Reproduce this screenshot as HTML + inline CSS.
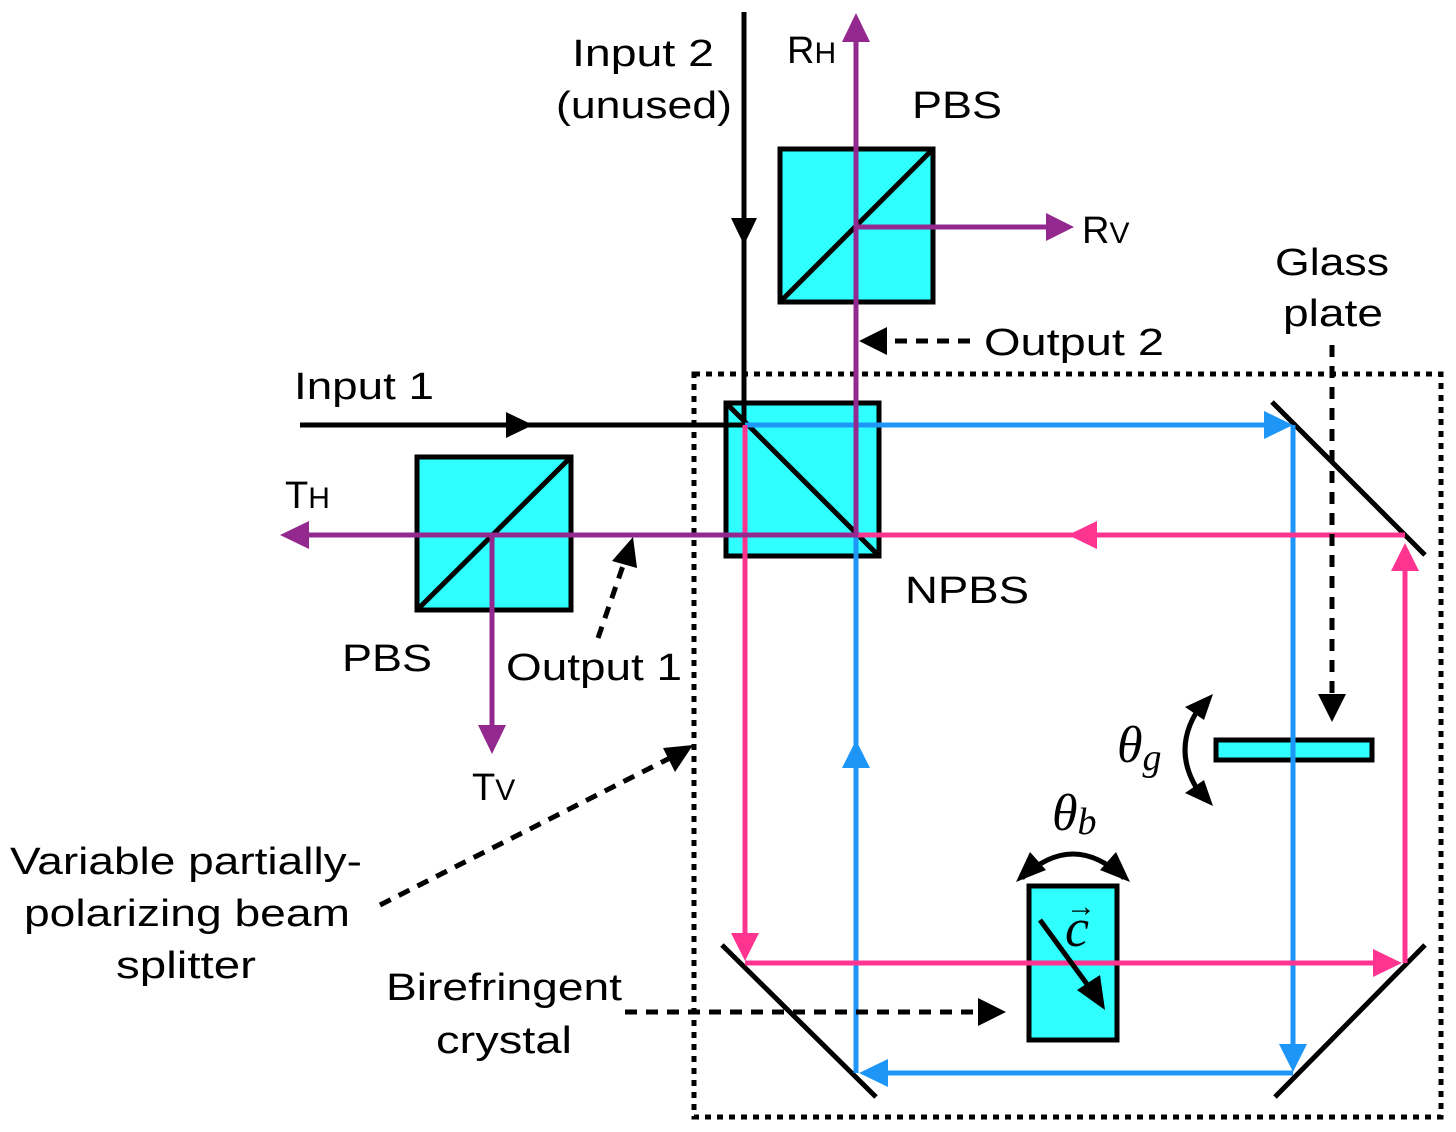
<!DOCTYPE html>
<html><head><meta charset="utf-8"><style>html,body{margin:0;padding:0;background:#fff}svg{display:block}</style></head>
<body>
<svg width="1456" height="1132" viewBox="0 0 1456 1132" xmlns="http://www.w3.org/2000/svg" font-family="Liberation Sans, Arial, sans-serif" font-size="38">
<!-- dotted box -->
<rect x="694" y="374" width="747" height="743" fill="none" stroke="#000" stroke-width="5" stroke-dasharray="6 6"/>

<!-- cubes -->
<rect x="726" y="403" width="153" height="153" fill="#2ffffe" stroke="#000" stroke-width="5"/>
<line x1="726" y1="403" x2="879" y2="556" stroke="#000" stroke-width="5"/>
<rect x="780" y="149" width="153" height="153" fill="#2ffffe" stroke="#000" stroke-width="5"/>
<line x1="780" y1="302" x2="933" y2="149" stroke="#000" stroke-width="5"/>
<rect x="417" y="457" width="154" height="153" fill="#2ffffe" stroke="#000" stroke-width="5"/>
<line x1="417" y1="610" x2="571" y2="457" stroke="#000" stroke-width="5"/>
<rect x="1216" y="740" width="156" height="20" fill="#2ffffe" stroke="#000" stroke-width="5"/>
<rect x="1029" y="886" width="88" height="154" fill="#2ffffe" stroke="#000" stroke-width="5"/>

<!-- mirrors -->
<line x1="1272" y1="402" x2="1425" y2="555" stroke="#000" stroke-width="5"/>
<line x1="722" y1="945" x2="876" y2="1097" stroke="#000" stroke-width="5"/>
<line x1="1275" y1="1097" x2="1425" y2="945" stroke="#000" stroke-width="5"/>

<!-- black inputs -->
<line x1="300" y1="425" x2="745" y2="425" stroke="#000" stroke-width="5"/>
<polygon points="533,425 506,412 506,438" fill="#000"/>
<line x1="744" y1="12" x2="744" y2="425" stroke="#000" stroke-width="5"/>
<polygon points="744,245 731,218 757,218" fill="#000"/>

<!-- blue -->
<g stroke="#1e96f8" stroke-width="5" fill="none">
<line x1="745" y1="425" x2="1270" y2="425"/>
<line x1="1293" y1="425" x2="1293" y2="1050"/>
<line x1="1293" y1="1073" x2="880" y2="1073"/>
<line x1="856" y1="1073" x2="856" y2="535"/>
</g>
<g fill="#1e96f8">
<polygon points="1293,425 1264,411 1264,439"/>
<polygon points="1293,1072 1279,1044 1307,1044"/>
<polygon points="859,1073 888,1059 888,1087"/>
<polygon points="856,740 842,768 870,768"/>
</g>
<!-- pink -->
<g stroke="#ff3390" stroke-width="5" fill="none">
<line x1="745" y1="425" x2="745" y2="935"/>
<line x1="745" y1="963" x2="1380" y2="963"/>
<line x1="1405" y1="963" x2="1405" y2="565"/>
<line x1="1405" y1="535" x2="858" y2="535"/>
</g>
<g fill="#ff3390">
<polygon points="745,961 731,933 759,933"/>
<polygon points="1402,963 1373,949 1373,977"/>
<polygon points="1405,543 1391,571 1419,571"/>
<polygon points="1068,535 1097,521 1097,549"/>
</g>
<!-- purple -->
<g stroke="#93288f" stroke-width="5" fill="none">
<line x1="858" y1="535" x2="300" y2="535"/>
<line x1="856" y1="535" x2="856" y2="40"/>
<line x1="856" y1="227" x2="1050" y2="227"/>
<line x1="492" y1="535" x2="492" y2="730"/>
</g>
<g fill="#93288f">
<polygon points="280,535 309,521 309,549"/>
<polygon points="856,13 842,42 870,42"/>
<polygon points="1074,227 1046,213 1046,241"/>
<polygon points="492,754 478,725 506,725"/>
</g>

<!-- dashed pointers -->
<g stroke="#000" stroke-width="5" stroke-dasharray="12 9" fill="none">
<line x1="970" y1="341" x2="885" y2="341"/>
<line x1="598" y1="638" x2="625" y2="560"/>
<line x1="1332" y1="345" x2="1332" y2="700"/>
<line x1="625" y1="1012" x2="980" y2="1012"/>
<line x1="380" y1="905" x2="670" y2="758"/>
</g>
<g fill="#000">
<polygon points="859,341 887,327 887,355"/>
<polygon points="633,537 637,568 612,561"/>
<polygon points="1332,722 1318,694 1346,694"/>
<polygon points="1006,1012 978,998 978,1026"/>
<polygon points="693,745 675,772 663,748"/>
</g>

<!-- rotation arrows -->
<path d="M1022,878 Q1073,830 1124,878" stroke="#000" stroke-width="5" fill="none"/>
<polygon points="1016,882 1046,870 1030,852" fill="#000"/>
<polygon points="1130,882 1100,870 1116,852" fill="#000"/>
<path d="M1205,700 Q1165,750 1205,800" stroke="#000" stroke-width="5" fill="none"/>
<polygon points="1213,694 1185,707 1204,720" fill="#000"/>
<polygon points="1213,806 1185,793 1204,780" fill="#000"/>
<!-- c vector -->
<line x1="1040" y1="920" x2="1095" y2="995" stroke="#000" stroke-width="5"/>
<polygon points="1105,1010 1077,990 1100,975" fill="#000"/>

<!-- text -->
<g fill="#000">
<text x="572" y="66" textLength="142" lengthAdjust="spacingAndGlyphs">Input 2</text>
<text x="556" y="118" textLength="176" lengthAdjust="spacingAndGlyphs">(unused)</text>
<text x="787" y="63">R<tspan font-size="30">H</tspan></text>
<text x="912" y="118" textLength="90" lengthAdjust="spacingAndGlyphs">PBS</text>
<text x="1082" y="243">R<tspan font-size="30">V</tspan></text>
<text x="1275" y="275" textLength="114" lengthAdjust="spacingAndGlyphs">Glass</text>
<text x="1283" y="326" textLength="100" lengthAdjust="spacingAndGlyphs">plate</text>
<text x="984" y="355" textLength="180" lengthAdjust="spacingAndGlyphs">Output 2</text>
<text x="294" y="399" textLength="140" lengthAdjust="spacingAndGlyphs">Input 1</text>
<text x="285" y="508">T<tspan font-size="30">H</tspan></text>
<text x="905" y="603" textLength="124" lengthAdjust="spacingAndGlyphs">NPBS</text>
<text x="342" y="671" textLength="90" lengthAdjust="spacingAndGlyphs">PBS</text>
<text x="506" y="680" textLength="176" lengthAdjust="spacingAndGlyphs">Output 1</text>
<text x="472" y="800">T<tspan font-size="30">V</tspan></text>
<text x="10" y="874" textLength="352" lengthAdjust="spacingAndGlyphs">Variable partially-</text>
<text x="24" y="926" textLength="326" lengthAdjust="spacingAndGlyphs">polarizing beam</text>
<text x="116" y="978" textLength="140" lengthAdjust="spacingAndGlyphs">splitter</text>
<text x="386" y="1000" textLength="236" lengthAdjust="spacingAndGlyphs">Birefringent</text>
<text x="436" y="1053" textLength="136" lengthAdjust="spacingAndGlyphs">crystal</text>
<text x="1117" y="762" font-family="Liberation Serif, serif" font-style="italic" font-size="52">θ<tspan font-size="38" dy="8">g</tspan></text>
<text x="1052" y="830" font-family="Liberation Serif, serif" font-style="italic" font-size="52">θ<tspan font-size="38" dy="4">b</tspan></text>
<text x="1065" y="946" font-family="Liberation Serif, serif" font-style="italic" font-size="54">c</text>
<text x="1066" y="916" font-size="30">→</text>
</g>
</svg>
</body></html>
